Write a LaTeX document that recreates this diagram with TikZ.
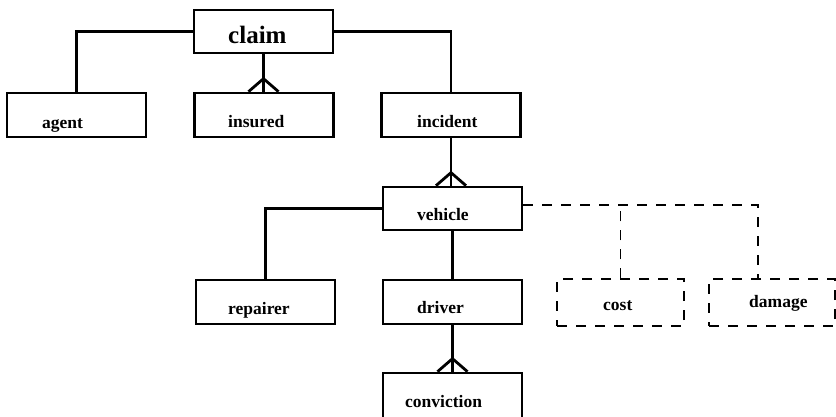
\documentclass[tikz,border=0pt]{standalone}
\usepackage{fontspec}
\setmainfont{Liberation Serif}
\usetikzlibrary{calc}
\begin{document}
\begin{tikzpicture}[x=1pt,y=-1pt,
  ent/.style={draw, line width=2.7pt, minimum width=139pt, minimum height=44pt, inner sep=0pt},
  opt/.style={draw, dashed, dash pattern=on 10pt off 9pt, line width=1.3pt, minimum width=127pt, minimum height=47pt, inner sep=0pt},
  lbl/.style={anchor=base west, inner sep=0pt, font=\fontsize{17.5}{20}\selectfont\bfseries},
  rel/.style={line width=2.8pt},
  optrel/.style={dashed, dash pattern=on 10pt off 9pt, line width=1.3pt}]
\useasboundingbox (0,0) rectangle (836,416);
\clip (0,0) rectangle (836,416);

% entity boxes
\node[ent, minimum height=43pt] (claim) at (263.5,31.5) {};
\node[ent] (agent)      at (76.5,115)  {};
\node[ent] (insured)    at (264,115)   {};
\node[ent] (incident)   at (451,115)   {};
\node[ent, minimum height=43pt] (vehicle) at (452.5,208.5) {};
\node[ent] (repairer)   at (265.5,302) {};
\node[ent] (driver)     at (452.5,302) {};
\node[ent, minimum height=48pt] (conviction) at (452.5,397) {};
\node[opt] (cost)       at (620.5,302.5) {};
\node[opt, minimum width=126pt] (damage) at (772,302.5) {};

% labels
\node[lbl, font=\fontsize{25}{28}\selectfont\bfseries] (claim-t) at (228,43) {claim};
\node[lbl] (agent-t)      at (42,128)  {agent};
\node[lbl] (insured-t)    at (228,127) {insured};
\node[lbl] (incident-t)   at (417,127) {incident};
\node[lbl] (vehicle-t)    at (417,220) {vehicle};
\node[lbl] (repairer-t)   at (228,314) {repairer};
\node[lbl] (driver-t)     at (417,313) {driver};
\node[lbl] (conviction-t) at (405,407) {conviction};
\node[lbl] (cost-t)       at (603,310) {cost};
\node[lbl] (damage-t)     at (749,307) {damage};

% one-to-one links
\draw[rel] (claim.west) -| (agent.north);
\draw[rel] (claim.east) -| (incident.north);
\draw[rel] (vehicle.west) -| (repairer.north);
\draw[rel] (vehicle.south) -- (driver.north);

% one-to-many links with crow's feet
\draw[rel] (claim.south) -- (claim.south |- insured.north);
\draw[rel] ($(claim.south |- insured.north)+(-15,0)$) -- ++(15,-13) -- ++(15,13);
\draw[rel] (incident.south) -- (incident.south |- vehicle.north);
\draw[rel] ($(incident.south |- vehicle.north)+(-15,0)$) -- ++(15,-13) -- ++(15,13);
\draw[rel] (driver.south) -- (conviction.north);
\draw[rel] ($(conviction.north)+(-15,0)$) -- ++(15,-13) -- ++(15,13);

% optional attributes
\coordinate (bend) at (758,205);
\draw[optrel] (vehicle.east |- bend) -- (bend) -- (bend |- damage.north);
\draw[optrel] (cost.north) -- (cost.north |- bend);
\end{tikzpicture}
\end{document}
